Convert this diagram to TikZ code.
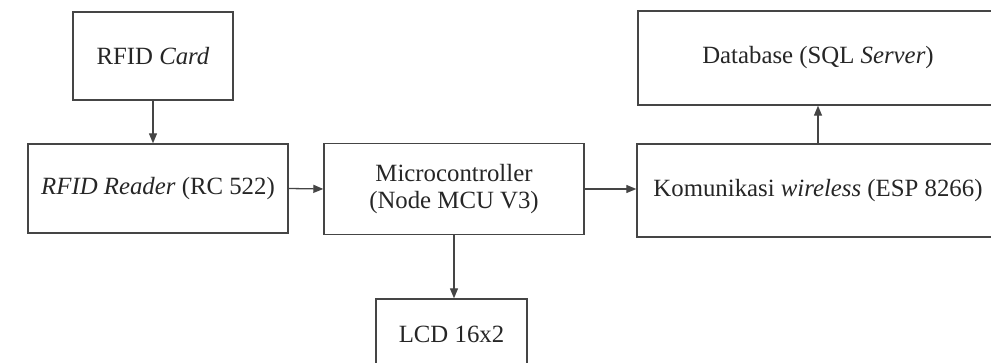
\documentclass[tikz,border=0pt]{standalone}
\usepackage{fontspec}
\setmainfont{Liberation Serif}
\usetikzlibrary{arrows.meta}
\definecolor{ln}{HTML}{454545}
\definecolor{tx}{HTML}{262626}
\begin{document}
\begin{tikzpicture}[x=1pt,y=-1pt,
  blk/.style={draw=ln,line width=1.4pt,rectangle,inner sep=0pt,align=center,text=tx,
    font=\fontsize{24.8}{27.5}\selectfont},
  conn/.style={draw=ln,line width=1.3pt,-{Triangle[length=10pt,width=8pt]}}]
\useasboundingbox (0,0) rectangle (991,363);
\clip (0,0) rectangle (991,363);
\fill[white] (0,0) rectangle (991,363);
\node[blk,minimum width=160pt,minimum height=88pt] (card) at (153,56) {RFID \textit{Card}};
\node[blk,minimum width=260pt,minimum height=89pt] (reader) at (158,188.5) {\textit{RFID Reader} (RC 522)};
\node[blk,minimum width=260pt,minimum height=91pt] (micro) at (454,189) {Microcontroller\\(Node MCU V3)};
\node[blk,minimum width=362pt,minimum height=93pt] (kom) at (818,190.5) {Komunikasi \textit{wireless} (ESP 8266)};
\node[blk,minimum width=360pt,minimum height=94pt] (db) at (818,58) {Database (SQL \textit{Server})};
\node[blk,minimum width=151pt,minimum height=70pt] (lcd) at (451.5,334) {LCD 16x2};
\draw[conn] (card.south) -- (card.south |- reader.north);
\draw[conn] (reader.east) -- (micro.west);
\draw[conn] (micro.east) -- (micro.east -| kom.west);
\draw[conn] (micro.south) -- (micro.south |- lcd.north);
\draw[conn] (kom.north) -- (db.south);
\end{tikzpicture}
\end{document}
